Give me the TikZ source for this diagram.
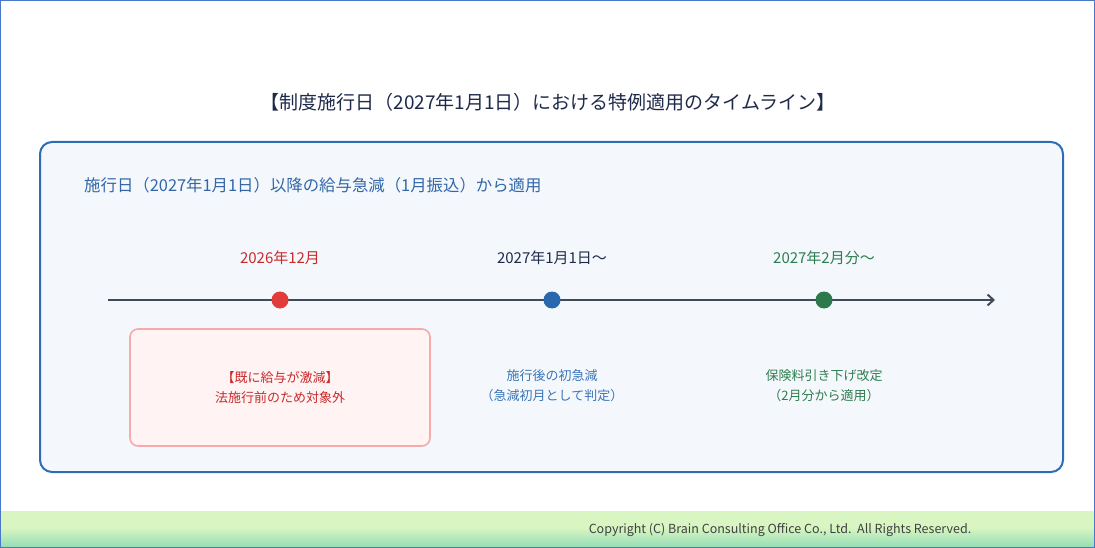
\documentclass[tikz,border=0pt]{standalone}
\usepackage{fontspec}
\setmainfont{Noto Sans CJK JP}
\usetikzlibrary{positioning,arrows.meta}

\definecolor{titlenavy}{HTML}{1F2A4A}
\definecolor{panelblue}{HTML}{2E6DB4}
\definecolor{panelfill}{HTML}{F4F8FC}
\definecolor{leadblue}{HTML}{3267A8}
\definecolor{axisgray}{HTML}{3F4A5A}
\definecolor{dotred}{HTML}{E23B3B}
\definecolor{dotblue}{HTML}{2A68AE}
\definecolor{dotgreen}{HTML}{2C7A4B}
\definecolor{textred}{HTML}{C92A2A}
\definecolor{textblue}{HTML}{3A75B8}
\definecolor{textgreen}{HTML}{2E7D4F}
\definecolor{boxfill}{HTML}{FFF3F3}
\definecolor{boxline}{HTML}{F7AAAA}
\definecolor{bandgreen}{HTML}{D9F6C2}
\definecolor{bandbottom}{HTML}{96DDB6}
\definecolor{frameblue}{HTML}{4A78C8}

\begin{document}
\begin{tikzpicture}[x=1pt, y=-1pt,
        dot/.style={circle, inner sep=0pt, minimum size=17pt},
        datelabel/.style={inner sep=2pt, font=\fontsize{15}{18}\selectfont},
        note/.style={inner sep=2pt, align=center, font=\fontsize{13}{20}\selectfont},
        oldbox/.style={note, draw=boxline, fill=boxfill, line width=1.6pt, rounded corners=8pt,
                minimum width=300pt, minimum height=117pt}]
        \useasboundingbox (0,0) rectangle (1095,548);
        %
        \fill[bandgreen] (1,511) rectangle (1094,547);
        \shade[top color=bandgreen, bottom color=bandbottom] (1,527) rectangle (1094,547);
        \draw[frameblue, line width=1.2pt] (0.6,0.6) rectangle (1094.4,547.4);
        \node[text=black!75, inner sep=0pt, font=\fontsize{12.5}{14}\selectfont] (copy) at (780,530)
                {Copyright (C) Brain Consulting Office Co., Ltd.\ \ All Rights Reserved.};
        %
        \node[text=titlenavy, font=\fontsize{19}{22}\selectfont] (title) at (548,102)
                {【制度施行日（2027年1月1日）における特例適用のタイムライン】};
        \draw[panelblue, fill=panelfill, line width=2pt, rounded corners=12pt] (40,142) rectangle (1063,472);
        \node[text=leadblue, anchor=west, inner sep=0pt, font=\fontsize{16.4}{19}\selectfont] (lead) at (84,185)
                {施行日（2027年1月1日）以降の給与急減（1月振込）から適用};
        %
        \coordinate (start) at (108,300);
        \coordinate (end) at (995,300);
        \draw[axisgray, line width=2.4pt, -{Straight Barb[length=6pt, width=11pt, line width=2pt]}] (start) -- (end);
        %
        \node[dot, fill=dotred] (dec) at (280,300) {};
        \node[dot, fill=dotblue] (jan) at (552,300) {};
        \node[dot, fill=dotgreen] (feb) at (824,300) {};
        %
        \node[datelabel, text=textred, above = 24pt of dec] (dec_l) {2026年12月};
        \node[datelabel, text=titlenavy, above = 24pt of jan] (jan_l) {2027年1月1日～};
        \node[datelabel, text=textgreen, above = 24pt of feb] (feb_l) {2027年2月分～};
        %
        \node[oldbox, text=textred, below = 19.5pt of dec] (dec_n) {【既に給与が激減】\\法施行前のため対象外};
        \node[note, text=textblue, below = 59pt of jan] (jan_n) {施行後の初急減\\（急減初月として判定）};
        \node[note, text=textgreen, below = 59pt of feb] (feb_n) {保険料引き下げ改定\\（2月分から適用）};
\end{tikzpicture}
\end{document}
